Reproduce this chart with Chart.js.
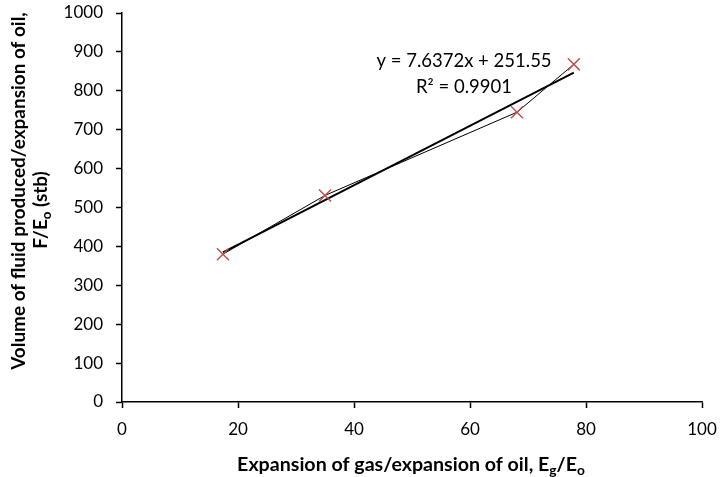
<!DOCTYPE html>
<html>
<head>
<meta charset="utf-8">
<script src="https://cdn.jsdelivr.net/npm/chart.js@4/dist/chart.umd.min.js"></script>
<style>
  html, body { margin: 0; padding: 0; background: #fff; }
</style>
</head>
<body>
<canvas id="chart" width="720" height="477"></canvas>
<script>
// data
var xVals = [17.4, 35.0, 68.1, 77.9];
var yVals = [380, 531, 745, 868];
var xTicks = [0, 20, 40, 60, 80, 100];
var yTicks = [0, 100, 200, 300, 400, 500, 600, 700, 800, 900, 1000];
var slope = 7.6372;
var intercept = 251.55;
var rSquared = 0.9901;

var FONT = 'Lato, "Open Sans", sans-serif';

var points = xVals.map(function (x, i) { return { x: x, y: yVals[i] }; });
var xMin = Math.min.apply(null, xVals);
var xMax = Math.max.apply(null, xVals);
var trend = [
  { x: xMin, y: slope * xMin + intercept },
  { x: xMax, y: slope * xMax + intercept }
];

function richWidth(ctx, parts, size, bold) {
  var w = 0;
  parts.forEach(function (p) {
    ctx.font = (bold ? 'bold ' : '') + (p.sub ? size * 0.7 : size) + 'px ' + FONT;
    p.w = ctx.measureText(p.t).width;
    w += p.w;
  });
  return w;
}

// draws a line of text made of pieces, some of them subscript
function drawRich(ctx, parts, size, bold, cx, cy) {
  var w = richWidth(ctx, parts, size, bold);
  var x = cx - w / 2;
  parts.forEach(function (p) {
    ctx.font = (bold ? 'bold ' : '') + (p.sub ? size * 0.7 : size) + 'px ' + FONT;
    ctx.textBaseline = 'middle';
    ctx.textAlign = 'left';
    ctx.fillText(p.t, x, p.sub ? cy + size * 0.3 : cy);
    x += p.w;
  });
}

var xTitle = [
  { t: 'Expansion of gas/expansion of oil, E' }, { t: 'g', sub: true },
  { t: '/E' }, { t: 'o', sub: true }
];
var yTitle1 = [{ t: 'Volume of fluid produced/expansion of oil,' }];
var yTitle2 = [{ t: 'F/E' }, { t: 'o', sub: true }, { t: ' (stb)' }];

var labelsPlugin = {
  id: 'labels',
  afterDraw: function (chart) {
    var ctx = chart.ctx;
    ctx.save();
    ctx.fillStyle = '#000';

    // x axis title, sized to the width it has in the picture
    var xs = 16 * 348 / richWidth(ctx, xTitle, 16, true);
    drawRich(ctx, xTitle, xs, true, 411, 465);

    // y axis title, rotated
    var ys = 16 * 358 / richWidth(ctx, yTitle1, 16, true);
    ctx.translate(0, 207);
    ctx.rotate(-Math.PI / 2);
    drawRich(ctx, yTitle1, ys, true, 16, 19);
    drawRich(ctx, yTitle2, ys, true, -3, 41);
    ctx.restore();

    // trendline equation
    ctx.save();
    ctx.fillStyle = '#000';
    ctx.font = '18.5px ' + FONT;
    ctx.textAlign = 'center';
    ctx.textBaseline = 'middle';
    ctx.fillText('y = ' + slope + 'x + ' + intercept, 464, 61);
    ctx.fillText('R\u00B2 = ' + rSquared, 464, 87);
    ctx.restore();
  }
};

new Chart(document.getElementById('chart'), {
  type: 'scatter',
  data: {
    datasets: [{
      label: 'F/Eo',
      data: points,
      showLine: true,
      borderColor: '#000',
      borderWidth: 1,
      pointStyle: 'crossRot',
      pointRadius: 8.5,
      pointHoverRadius: 8.5,
      pointBorderColor: '#C0504D',
      pointBorderWidth: 1.5,
      order: 0
    }, {
      label: 'trend',
      data: trend,
      showLine: true,
      borderColor: '#000',
      borderWidth: 2,
      pointRadius: 0,
      order: 1
    }]
  },
  options: {
    responsive: false,
    animation: false,
    devicePixelRatio: 1,
    layout: { padding: { top: 13, right: 18, left: 0, bottom: 0 } },
    plugins: {
      legend: { display: false },
      tooltip: { enabled: false }
    },
    scales: {
      x: {
        type: 'linear',
        min: xTicks[0],
        max: xTicks[xTicks.length - 1],
        afterBuildTicks: function (s) { s.ticks = xTicks.map(function (v) { return { value: v }; }); },
        afterFit: function (s) {
          s.height = 75;
          s.paddingLeft = 0; s.paddingRight = 0;
        },
        ticks: { color: '#000', font: { family: FONT, size: 17 }, padding: 11, maxRotation: 0,
                 callback: function (v) { return String(v); } },
        grid: { drawOnChartArea: false, color: '#000', tickLength: 6, tickWidth: 1.5 },
        border: { color: '#000', width: 1.5 }
      },
      y: {
        min: yTicks[0],
        max: yTicks[yTicks.length - 1],
        afterBuildTicks: function (s) { s.ticks = yTicks.map(function (v) { return { value: v }; }); },
        afterFit: function (s) {
          s.width = 122;
          s.paddingTop = 0; s.paddingBottom = 0;
        },
        ticks: { color: '#000', font: { family: FONT, size: 17 }, padding: 13,
                 callback: function (v) { return String(v); } },
        grid: { drawOnChartArea: false, color: '#000', tickLength: 6, tickWidth: 1.5 },
        border: { color: '#000', width: 1.5 }
      }
    }
  },
  plugins: [labelsPlugin]
});
</script>
</body>
</html>
